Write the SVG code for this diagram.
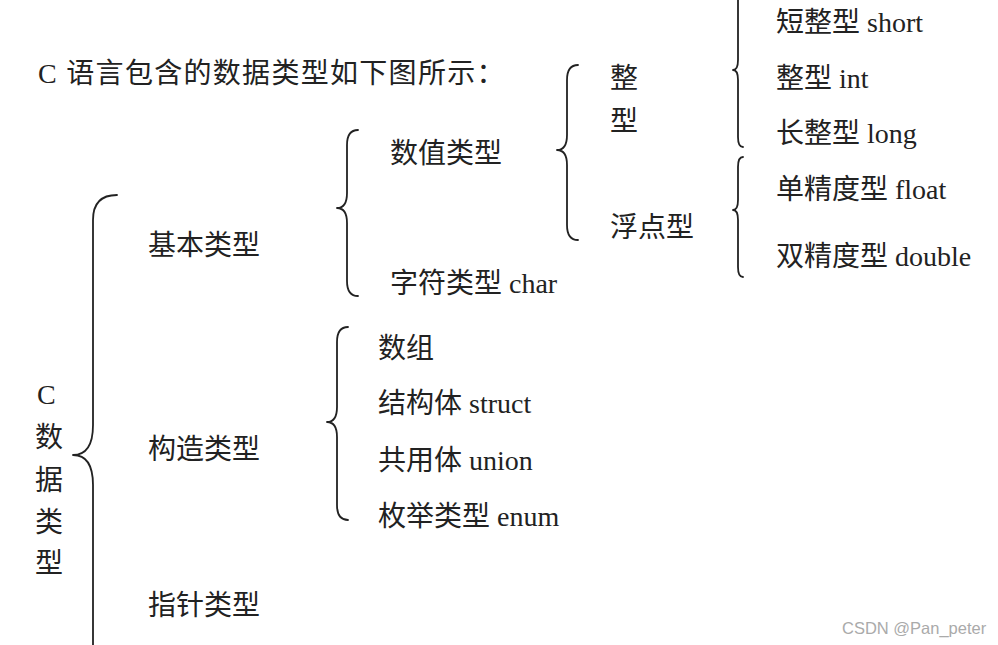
<svg xmlns="http://www.w3.org/2000/svg" width="998" height="645" viewBox="0 0 998 645">
<style>
  .t { font-family: "Liberation Serif", "Noto Sans CJK SC", serif; font-size: 28px; fill: #222; }
  .b { fill: none; stroke: #222; stroke-width: 1.8; stroke-linecap: round; stroke-linejoin: round; }
  .wm { font-family: "Liberation Sans", Arial, sans-serif; font-size: 16.5px; fill: #aaa; }
</style>
<rect width="998" height="645" fill="#fff"/>
<g id="connectors">
  <path class="b" d="M 117 195 Q 93 195 93 220 L 93 425 Q 93 455 73 455 Q 93 455 93 485 L 93 660"/>
  <path class="b" d="M 358 130 Q 347 130 347 145 L 347 193 Q 347 208 337 208 Q 347 208 347 223 L 347 281 Q 347 296 358 296"/>
  <path class="b" d="M 578 65 Q 567 65 567 80 L 567 135 Q 567 150 557 150 Q 567 150 567 165 L 567 225 Q 567 240 578 240"/>
  <path class="b" d="M 738 -5 L 738 60 Q 738 70 733 70 Q 738 70 738 80 L 738 137 Q 738 147 743 147"/>
  <path class="b" d="M 743 157 Q 738 157 738 167 L 738 200 Q 738 210 733 210 Q 738 210 738 220 L 738 267 Q 738 277 743 277"/>
  <path class="b" d="M 348 327 Q 337 327 337 342 L 337 407 Q 337 422 327 422 Q 337 422 337 437 L 337 505 Q 337 520 348 520"/>
</g>
<g id="title"><text class="t" x="38" y="83" style="letter-spacing:1.3px">C 语言包含的数据类型如下图所示：</text></g>
<g id="root">
  <text class="t" x="37" y="404">C</text>
  <text class="t" x="35" y="447">数</text>
  <text class="t" x="35" y="490">据</text>
  <text class="t" x="35" y="532">类</text>
  <text class="t" x="35" y="573">型</text>
</g>
<g id="basic"><text class="t" x="148" y="255">基本类型</text></g>
<g id="struct-type"><text class="t" x="148" y="459">构造类型</text></g>
<g id="pointer"><text class="t" x="148" y="615">指针类型</text></g>
<g id="numeric"><text class="t" x="390" y="163">数值类型</text></g>
<g id="char"><text class="t" x="390" y="293">字符类型 char</text></g>
<g id="integer">
  <text class="t" x="610" y="88">整</text>
  <text class="t" x="610" y="131">型</text>
</g>
<g id="floating"><text class="t" x="610" y="237">浮点型</text></g>
<g id="short"><text class="t" x="776" y="32">短整型 short</text></g>
<g id="int"><text class="t" x="776" y="88">整型 int</text></g>
<g id="long"><text class="t" x="776" y="143">长整型 long</text></g>
<g id="float"><text class="t" x="776" y="199">单精度型 float</text></g>
<g id="double"><text class="t" x="776" y="266">双精度型 double</text></g>
<g id="array"><text class="t" x="378" y="358">数组</text></g>
<g id="struct"><text class="t" x="378" y="413">结构体 struct</text></g>
<g id="union"><text class="t" x="378" y="470">共用体 union</text></g>
<g id="enum"><text class="t" x="378" y="526">枚举类型 enum</text></g>
<g id="watermark"><text class="wm" x="842" y="634">CSDN @Pan_peter</text></g>
</svg>
